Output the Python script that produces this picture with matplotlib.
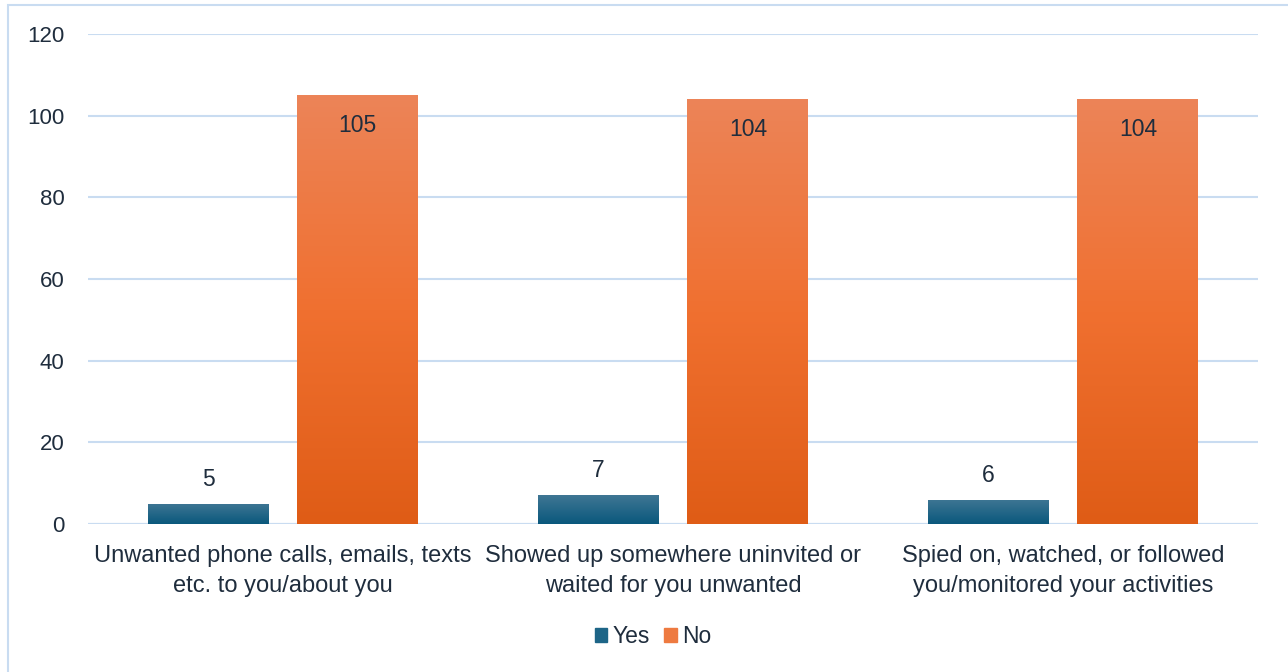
import numpy as np
import matplotlib.pyplot as plt
from matplotlib.colors import LinearSegmentedColormap
from matplotlib.patches import Rectangle

categories = [
    "Unwanted phone calls, emails, texts\netc. to you/about you",
    "Showed up somewhere uninvited or\nwaited for you unwanted",
    "Spied on, watched, or followed\nyou/monitored your activities",
]
yes_values = [5, 7, 6]
no_values = [105, 104, 104]
yticks = [0, 20, 40, 60, 80, 100, 120]

text_color = "#1f2d3d"
grid_color = "#c9dcf1"
plt.rcParams["font.family"] = ["Liberation Sans", "DejaVu Sans"]

fig = plt.figure(figsize=(12.88, 6.72), dpi=100)
ax = fig.add_axes([0.0683, 0.2202, 0.9084, 0.7292])

# outer frame of the chart area
fig.patches.append(Rectangle((8 / 1288, -0.01), 1.02, (672 - 5) / 672 + 0.01,
                             transform=fig.transFigure, fill=False,
                             edgecolor=grid_color, linewidth=1.5))

x = np.arange(len(categories))
width = 0.31
offset = 0.192

blue_cmap = LinearSegmentedColormap.from_list("blue", ["#0a587c", "#3f7694"])
orange_cmap = LinearSegmentedColormap.from_list(
    "orange", ["#df5c16", "#f07030", "#ec8458"])


def gradient_bars(xpos, values, cmap, label):
    bars = ax.bar(xpos, values, width, color=cmap(0.5), label=label, zorder=2)
    grad = np.linspace(0, 1, 256).reshape(-1, 1)
    for b in bars:
        x0, w, h = b.get_x(), b.get_width(), b.get_height()
        im = ax.imshow(grad, cmap=cmap, origin="lower", aspect="auto",
                       extent=[x0, x0 + w, 0, h], zorder=2.5)
        im.set_clip_path(b)
    return bars


yes_bars = gradient_bars(x - offset, yes_values, blue_cmap, "Yes")
no_bars = gradient_bars(x + offset, no_values, orange_cmap, "No")

# labels
for xi, v in zip(x - offset, yes_values):
    ax.text(xi, v + 6.0, str(v), ha="center", va="center", fontsize=16.5,
            color=text_color, zorder=4)
for xi, v in zip(x + offset, no_values):
    ax.text(xi, v - 7.3, str(v), ha="center", va="center", fontsize=16.5,
            color=text_color, zorder=4)

ax.set_xlim(-0.5, 2.5)
ax.set_ylim(0, 120)
ax.set_yticks(yticks)
ax.set_xticks(x)
ax.set_xticklabels(categories, fontsize=17, color=text_color, linespacing=1.45)
ax.tick_params(axis="y", labelsize=16, colors=text_color, length=0, pad=17)
ax.tick_params(axis="x", length=0, pad=15)
ax.grid(axis="y", color=grid_color, linewidth=1.5, zorder=0)
ax.set_axisbelow(True)
for s in ax.spines.values():
    s.set_visible(False)
ax.axhline(0, color=grid_color, linewidth=1.5, zorder=1)

leg = ax.legend(loc="center", bbox_to_anchor=(0.483, -0.229), ncol=2,
                frameon=False, fontsize=16.5, handlelength=0.55, handleheight=0.55,
                handletextpad=0.25, columnspacing=0.6)
for t in leg.get_texts():
    t.set_color(text_color)
leg.legend_handles[0].set_color("#1d6587")
leg.legend_handles[1].set_color("#ee7a40")

fig.savefig("out.png", dpi=100)
